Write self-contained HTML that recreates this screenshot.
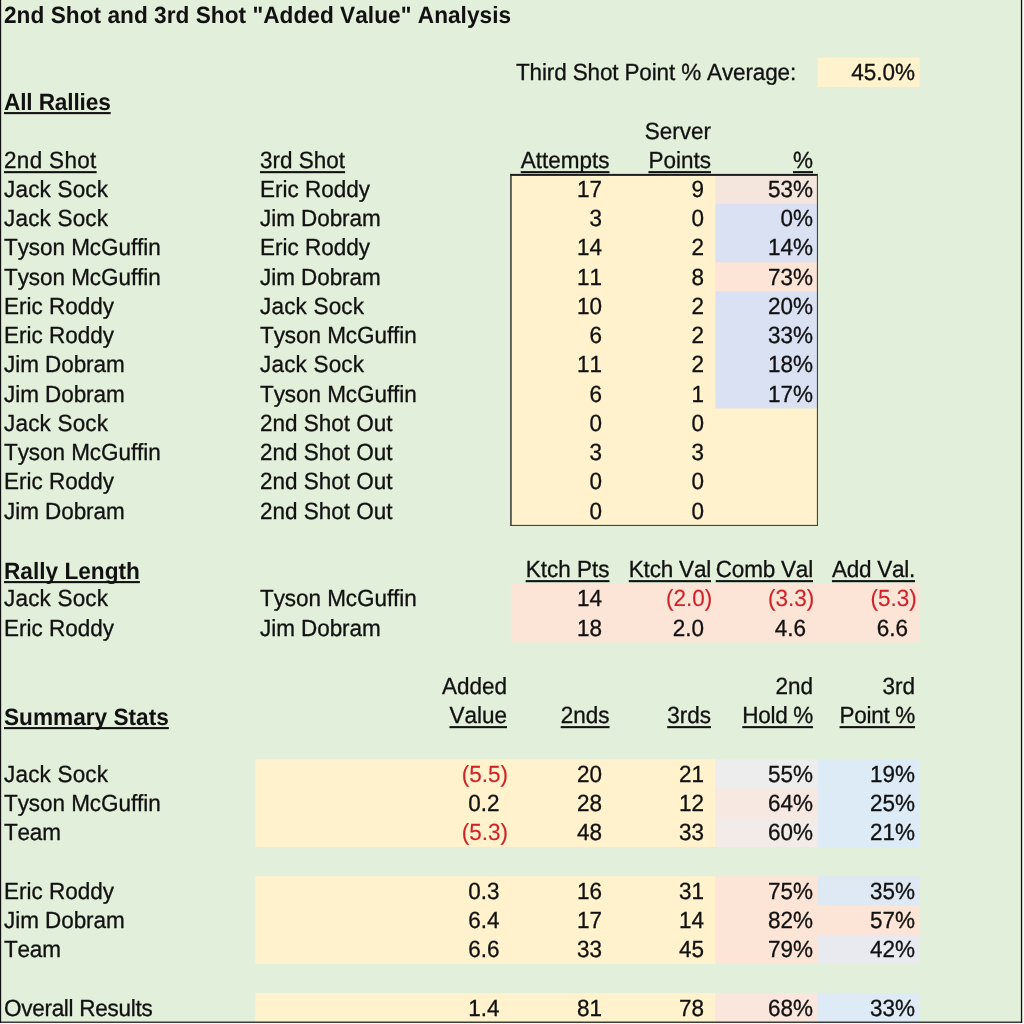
<!DOCTYPE html>
<html><head><meta charset="utf-8"><title>2nd Shot and 3rd Shot Added Value Analysis</title>
<style>
html,body{margin:0;padding:0;}
body{width:1024px;height:1024px;position:relative;overflow:hidden;background:#F6FAF3;font-family:"Liberation Sans",sans-serif;font-size:22.5px;color:#111;}
svg{position:absolute;left:0;top:0;}
.t{position:absolute;height:29px;line-height:29px;white-space:nowrap;text-rendering:geometricPrecision;font-kerning:none;transform:scaleY(1.04);transform-origin:0 22.3px;-webkit-text-stroke:0.3px #111;}
.b{font-weight:bold;font-size:22.65px;-webkit-text-stroke:0;}
.b.u{text-underline-offset:1.9px !important;}
.u{text-decoration:underline;text-decoration-thickness:2px;text-underline-offset:3.3px;text-decoration-skip-ink:none;}
</style></head><body>
<svg width="1024" height="1024" viewBox="0 0 1024 1024">
<rect x="0" y="0" width="1022" height="1022.5" fill="#E2EFDA"/>
<rect x="817.6" y="57.6" width="102.0" height="29.24" fill="#FFF2CC"/>
<rect x="510.9" y="174.55" width="306.7" height="350.85" fill="#FFF2CC"/>
<rect x="715.3" y="174.55" width="102.3" height="30.24" fill="#F4E6DC"/>
<rect x="715.3" y="203.79" width="102.3" height="30.24" fill="#D9E1F2"/>
<rect x="715.3" y="233.03" width="102.3" height="30.23" fill="#D9E1F2"/>
<rect x="715.3" y="262.26" width="102.3" height="30.24" fill="#FCE4D6"/>
<rect x="715.3" y="291.5" width="102.3" height="30.24" fill="#D9E1F2"/>
<rect x="715.3" y="320.74" width="102.3" height="30.24" fill="#D9E1F2"/>
<rect x="715.3" y="349.98" width="102.3" height="30.23" fill="#D9E1F2"/>
<rect x="715.3" y="379.21" width="102.3" height="29.24" fill="#D9E1F2"/>
<rect x="510.9" y="583.88" width="408.7" height="58.47" fill="#FCE4D6"/>
<rect x="255.3" y="759.3" width="461.0" height="87.71" fill="#FFF2CC"/>
<rect x="255.3" y="876.25" width="461.0" height="87.71" fill="#FFF2CC"/>
<rect x="255.3" y="993.2" width="461.0" height="29.24" fill="#FFF2CC"/>
<rect x="715.3" y="759.3" width="103.3" height="30.24" fill="#EDEDED"/>
<rect x="715.3" y="788.54" width="103.3" height="30.23" fill="#F7E9E1"/>
<rect x="715.3" y="817.77" width="103.3" height="29.24" fill="#F2EBE8"/>
<rect x="715.3" y="876.25" width="103.3" height="30.24" fill="#FCE4D6"/>
<rect x="715.3" y="905.49" width="103.3" height="30.24" fill="#FCE4D6"/>
<rect x="715.3" y="934.73" width="103.3" height="29.23" fill="#FCE4D6"/>
<rect x="715.3" y="993.2" width="103.3" height="29.24" fill="#FAE6DC"/>
<rect x="817.6" y="759.3" width="102.0" height="30.24" fill="#DDEBF7"/>
<rect x="817.6" y="788.54" width="102.0" height="30.23" fill="#DDEBF7"/>
<rect x="817.6" y="817.77" width="102.0" height="29.24" fill="#DDEBF7"/>
<rect x="817.6" y="876.25" width="102.0" height="30.24" fill="#DFE9F4"/>
<rect x="817.6" y="905.49" width="102.0" height="30.24" fill="#FCE4D6"/>
<rect x="817.6" y="934.73" width="102.0" height="29.23" fill="#E8EAF0"/>
<rect x="817.6" y="993.2" width="102.0" height="29.24" fill="#DEEAF5"/>
<rect x="510.3" y="173.9" width="1.3" height="352.1" fill="#1c1c1c"/>
<rect x="510.3" y="173.9" width="307.7" height="2" fill="#1c1c1c"/>
<rect x="816.9" y="173.9" width="1.1" height="352.1" fill="#444"/>
<rect x="510.3" y="524.9" width="307.7" height="1.1" fill="#444"/>
<rect x="0" y="0" width="1.15" height="1023" fill="#111"/>
<rect x="1020.9" y="0" width="1.3" height="1022.8" fill="#111"/>
<rect x="0" y="1021.6" width="1022.2" height="1.2" fill="#111"/>
</svg>
<div class="t b" style="top:0.58px;left:4px;letter-spacing:0.03px;">2nd Shot and 3rd Shot "Added Value" Analysis</div>
<div class="t" style="top:58.05px;left:516px;letter-spacing:-0.144px;">Third Shot Point % Average:</div>
<div class="t" style="top:58.05px;right:109px;">45.0%</div>
<div class="t b u" style="top:88.29px;left:4px;letter-spacing:-0.14px;">All Rallies</div>
<div class="t" style="top:116.53px;right:313px;">Server</div>
<div class="t u" style="top:145.76px;left:4px;letter-spacing:0.32px;">2nd Shot</div>
<div class="t u" style="top:145.76px;left:260px;">3rd Shot</div>
<div class="t u" style="top:145.76px;right:414.5px;">Attempts</div>
<div class="t u" style="top:145.76px;right:313px;">Points</div>
<div class="t u" style="top:145.76px;right:211px;">%</div>
<div class="t" style="top:175.0px;left:4px;letter-spacing:0.19px;">Jack Sock</div>
<div class="t" style="top:175.0px;left:260px;">Eric Roddy</div>
<div class="t" style="top:175.0px;right:422px;">17</div>
<div class="t" style="top:175.0px;right:320px;">9</div>
<div class="t" style="top:175.0px;right:211px;">53%</div>
<div class="t" style="top:204.24px;left:4px;letter-spacing:0.19px;">Jack Sock</div>
<div class="t" style="top:204.24px;left:260px;letter-spacing:-0.06px;">Jim Dobram</div>
<div class="t" style="top:204.24px;right:422px;">3</div>
<div class="t" style="top:204.24px;right:320px;">0</div>
<div class="t" style="top:204.24px;right:211px;">0%</div>
<div class="t" style="top:233.48px;left:4px;letter-spacing:-0.06px;">Tyson McGuffin</div>
<div class="t" style="top:233.48px;left:260px;">Eric Roddy</div>
<div class="t" style="top:233.48px;right:422px;">14</div>
<div class="t" style="top:233.48px;right:320px;">2</div>
<div class="t" style="top:233.48px;right:211px;">14%</div>
<div class="t" style="top:262.71px;left:4px;letter-spacing:-0.06px;">Tyson McGuffin</div>
<div class="t" style="top:262.71px;left:260px;letter-spacing:-0.06px;">Jim Dobram</div>
<div class="t" style="top:262.71px;right:422px;">11</div>
<div class="t" style="top:262.71px;right:320px;">8</div>
<div class="t" style="top:262.71px;right:211px;">73%</div>
<div class="t" style="top:291.95px;left:4px;">Eric Roddy</div>
<div class="t" style="top:291.95px;left:260px;letter-spacing:0.19px;">Jack Sock</div>
<div class="t" style="top:291.95px;right:422px;">10</div>
<div class="t" style="top:291.95px;right:320px;">2</div>
<div class="t" style="top:291.95px;right:211px;">20%</div>
<div class="t" style="top:321.19px;left:4px;">Eric Roddy</div>
<div class="t" style="top:321.19px;left:260px;letter-spacing:-0.06px;">Tyson McGuffin</div>
<div class="t" style="top:321.19px;right:422px;">6</div>
<div class="t" style="top:321.19px;right:320px;">2</div>
<div class="t" style="top:321.19px;right:211px;">33%</div>
<div class="t" style="top:350.43px;left:4px;letter-spacing:-0.06px;">Jim Dobram</div>
<div class="t" style="top:350.43px;left:260px;letter-spacing:0.19px;">Jack Sock</div>
<div class="t" style="top:350.43px;right:422px;">11</div>
<div class="t" style="top:350.43px;right:320px;">2</div>
<div class="t" style="top:350.43px;right:211px;">18%</div>
<div class="t" style="top:379.66px;left:4px;letter-spacing:-0.06px;">Jim Dobram</div>
<div class="t" style="top:379.66px;left:260px;letter-spacing:-0.06px;">Tyson McGuffin</div>
<div class="t" style="top:379.66px;right:422px;">6</div>
<div class="t" style="top:379.66px;right:320px;">1</div>
<div class="t" style="top:379.66px;right:211px;">17%</div>
<div class="t" style="top:408.9px;left:4px;letter-spacing:0.19px;">Jack Sock</div>
<div class="t" style="top:408.9px;left:260px;">2nd Shot Out</div>
<div class="t" style="top:408.9px;right:422px;">0</div>
<div class="t" style="top:408.9px;right:320px;">0</div>
<div class="t" style="top:438.14px;left:4px;letter-spacing:-0.06px;">Tyson McGuffin</div>
<div class="t" style="top:438.14px;left:260px;">2nd Shot Out</div>
<div class="t" style="top:438.14px;right:422px;">3</div>
<div class="t" style="top:438.14px;right:320px;">3</div>
<div class="t" style="top:467.38px;left:4px;">Eric Roddy</div>
<div class="t" style="top:467.38px;left:260px;">2nd Shot Out</div>
<div class="t" style="top:467.38px;right:422px;">0</div>
<div class="t" style="top:467.38px;right:320px;">0</div>
<div class="t" style="top:496.61px;left:4px;letter-spacing:-0.06px;">Jim Dobram</div>
<div class="t" style="top:496.61px;left:260px;">2nd Shot Out</div>
<div class="t" style="top:496.61px;right:422px;">0</div>
<div class="t" style="top:496.61px;right:320px;">0</div>
<div class="t b u" style="top:557.09px;left:4px;">Rally Length</div>
<div class="t u" style="top:555.09px;right:414.5px;">Ktch Pts</div>
<div class="t u" style="top:555.09px;right:313px;letter-spacing:-0.2px;">Ktch Val</div>
<div class="t u" style="top:555.09px;right:211px;letter-spacing:-0.2px;">Comb Val</div>
<div class="t u" style="top:555.09px;right:109px;letter-spacing:-0.25px;">Add Val.</div>
<div class="t" style="top:584.32px;left:4px;letter-spacing:0.19px;">Jack Sock</div>
<div class="t" style="top:584.32px;left:260px;letter-spacing:-0.06px;">Tyson McGuffin</div>
<div class="t" style="top:584.32px;right:422px;">14</div>
<div class="t" style="top:584.32px;right:311.8px;color:#CF2228;-webkit-text-stroke:0.12px #CF2228;">(2.0)</div>
<div class="t" style="top:584.32px;right:209.8px;color:#CF2228;-webkit-text-stroke:0.12px #CF2228;">(3.3)</div>
<div class="t" style="top:584.32px;right:107.2px;color:#CF2228;-webkit-text-stroke:0.12px #CF2228;">(5.3)</div>
<div class="t" style="top:613.56px;left:4px;">Eric Roddy</div>
<div class="t" style="top:613.56px;left:260px;letter-spacing:-0.06px;">Jim Dobram</div>
<div class="t" style="top:613.56px;right:422px;">18</div>
<div class="t" style="top:613.56px;right:320px;">2.0</div>
<div class="t" style="top:613.56px;right:218px;">4.6</div>
<div class="t" style="top:613.56px;right:116px;">6.6</div>
<div class="t" style="top:672.04px;right:517px;">Added</div>
<div class="t" style="top:672.04px;right:211px;">2nd</div>
<div class="t" style="top:672.04px;right:109px;">3rd</div>
<div class="t b u" style="top:702.98px;left:4px;">Summary Stats</div>
<div class="t u" style="top:701.28px;right:517px;">Value</div>
<div class="t u" style="top:701.28px;right:414.5px;">2nds</div>
<div class="t u" style="top:701.28px;right:313px;">3rds</div>
<div class="t u" style="top:701.28px;right:211px;letter-spacing:-0.3px;">Hold %</div>
<div class="t u" style="top:701.28px;right:109px;letter-spacing:-0.3px;">Point %</div>
<div class="t" style="top:759.75px;left:4px;letter-spacing:0.19px;">Jack Sock</div>
<div class="t" style="top:759.75px;right:516px;color:#CF2228;-webkit-text-stroke:0.12px #CF2228;">(5.5)</div>
<div class="t" style="top:759.75px;right:422px;">20</div>
<div class="t" style="top:759.75px;right:320px;">21</div>
<div class="t" style="top:759.75px;right:211px;">55%</div>
<div class="t" style="top:759.75px;right:109px;">19%</div>
<div class="t" style="top:788.99px;left:4px;letter-spacing:-0.06px;">Tyson McGuffin</div>
<div class="t" style="top:788.99px;right:524.5px;">0.2</div>
<div class="t" style="top:788.99px;right:422px;">28</div>
<div class="t" style="top:788.99px;right:320px;">12</div>
<div class="t" style="top:788.99px;right:211px;">64%</div>
<div class="t" style="top:788.99px;right:109px;">25%</div>
<div class="t" style="top:818.23px;left:4px;letter-spacing:-0.2px;">Team</div>
<div class="t" style="top:818.23px;right:516px;color:#CF2228;-webkit-text-stroke:0.12px #CF2228;">(5.3)</div>
<div class="t" style="top:818.23px;right:422px;">48</div>
<div class="t" style="top:818.23px;right:320px;">33</div>
<div class="t" style="top:818.23px;right:211px;">60%</div>
<div class="t" style="top:818.23px;right:109px;">21%</div>
<div class="t" style="top:876.7px;left:4px;">Eric Roddy</div>
<div class="t" style="top:876.7px;right:524.5px;">0.3</div>
<div class="t" style="top:876.7px;right:422px;">16</div>
<div class="t" style="top:876.7px;right:320px;">31</div>
<div class="t" style="top:876.7px;right:211px;">75%</div>
<div class="t" style="top:876.7px;right:109px;">35%</div>
<div class="t" style="top:905.94px;left:4px;letter-spacing:-0.06px;">Jim Dobram</div>
<div class="t" style="top:905.94px;right:524.5px;">6.4</div>
<div class="t" style="top:905.94px;right:422px;">17</div>
<div class="t" style="top:905.94px;right:320px;">14</div>
<div class="t" style="top:905.94px;right:211px;">82%</div>
<div class="t" style="top:905.94px;right:109px;">57%</div>
<div class="t" style="top:935.18px;left:4px;letter-spacing:-0.2px;">Team</div>
<div class="t" style="top:935.18px;right:524.5px;">6.6</div>
<div class="t" style="top:935.18px;right:422px;">33</div>
<div class="t" style="top:935.18px;right:320px;">45</div>
<div class="t" style="top:935.18px;right:211px;">79%</div>
<div class="t" style="top:935.18px;right:109px;">42%</div>
<div class="t" style="top:993.65px;left:4px;letter-spacing:-0.28px;">Overall Results</div>
<div class="t" style="top:993.65px;right:524.5px;">1.4</div>
<div class="t" style="top:993.65px;right:422px;">81</div>
<div class="t" style="top:993.65px;right:320px;">78</div>
<div class="t" style="top:993.65px;right:211px;">68%</div>
<div class="t" style="top:993.65px;right:109px;">33%</div>
</body></html>
